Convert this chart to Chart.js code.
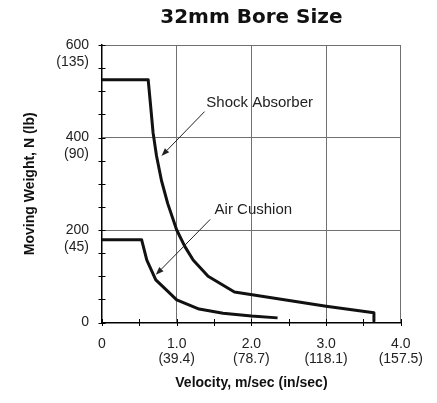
<!DOCTYPE html>
<html>
<head>
<meta charset="utf-8">
<script src="https://cdn.jsdelivr.net/npm/chart.js@4/dist/chart.umd.min.js"></script>
<style>
  html, body { margin: 0; padding: 0; background: #fff; }
  #wrap { width: 437px; height: 403px; position: relative; }
</style>
</head>
<body>
<div id="wrap"><canvas id="c" width="437" height="403"></canvas></div>
<script>
// ---- data ----
const shockX = [0, 0.618, 0.65, 0.684, 0.73, 0.796, 0.88, 1.0, 1.11, 1.22, 1.42, 1.773, 3.0, 3.64, 3.64];
const shockY = [525, 525, 470, 410, 360, 307, 257, 200, 164, 135, 100, 66, 35, 21, 3];
const airX = [0, 0.53, 0.60, 0.72, 0.85, 1.0, 1.3, 1.62, 2.0, 2.35];
const airY = [179, 179, 135, 92, 72, 49, 29, 20, 14, 10];

const xTickValues = [0, 1, 2, 3, 4];
const xTickMetric = ['0', '1.0', '2.0', '3.0', '4.0'];
const xTickImperial = ['', '(39.4)', '(78.7)', '(118.1)', '(157.5)'];
const yTickValues = [0, 200, 400, 600];
const yTickMetric = ['0', '200', '400', '600'];
const yTickImperial = ['', '(45)', '(90)', '(135)'];

const labelNames = ['Shock Absorber', 'Air Cushion'];
const labelAnchorX = [1.396, 1.507];
const labelAnchorY = [474, 243];
const arrowFromX = [1.373, 1.449];
const arrowFromY = [456, 223];
const arrowToX = [0.796, 0.72];
const arrowToY = [360, 103];

const toPts = (xs, ys) => xs.map((x, i) => ({ x, y: ys[i] }));

Chart.defaults.font.family = '"Liberation Sans", Arial, sans-serif';
Chart.defaults.color = '#222';

const crossTicks = {
  id: 'crossTicks',
  afterDraw(chart) {
    const { ctx, chartArea, scales } = chart;
    ctx.save();
    ctx.strokeStyle = '#000';
    ctx.lineWidth = 1;
    ctx.beginPath();
    scales.x.ticks.forEach(t => {
      const px = Math.round(scales.x.getPixelForValue(t.value)) + 0.5;
      ctx.moveTo(px, chartArea.bottom - 3.5);
      ctx.lineTo(px, chartArea.bottom + 3.5);
    });
    scales.y.ticks.forEach(t => {
      const py = Math.round(scales.y.getPixelForValue(t.value)) + 0.5;
      ctx.moveTo(chartArea.left - 3.5, py);
      ctx.lineTo(chartArea.left + 3.5, py);
    });
    ctx.stroke();
    ctx.restore();
  }
};

const callouts = {
  id: 'callouts',
  afterDatasetsDraw(chart) {
    const { ctx, scales } = chart;
    const sx = scales.x, sy = scales.y;
    ctx.save();
    ctx.fillStyle = '#222';
    ctx.strokeStyle = '#222';
    ctx.font = '15px "Liberation Sans", Arial, sans-serif';
    ctx.textAlign = 'left';
    ctx.textBaseline = 'middle';
    labelNames.forEach((name, i) => {
      ctx.fillText(name, sx.getPixelForValue(labelAnchorX[i]), sy.getPixelForValue(labelAnchorY[i]));
      const x1 = sx.getPixelForValue(arrowFromX[i]), y1 = sy.getPixelForValue(arrowFromY[i]);
      const x2 = sx.getPixelForValue(arrowToX[i]), y2 = sy.getPixelForValue(arrowToY[i]);
      const ang = Math.atan2(y2 - y1, x2 - x1);
      const hl = 8, hw = 3;
      const bx = x2 - hl * Math.cos(ang), by = y2 - hl * Math.sin(ang);
      ctx.lineWidth = 1;
      ctx.beginPath();
      ctx.moveTo(x1, y1);
      ctx.lineTo(bx, by);
      ctx.stroke();
      ctx.beginPath();
      ctx.moveTo(x2, y2);
      ctx.lineTo(bx + hw * Math.sin(ang), by - hw * Math.cos(ang));
      ctx.lineTo(bx - hw * Math.sin(ang), by + hw * Math.cos(ang));
      ctx.closePath();
      ctx.fill();
    });
    ctx.restore();
  }
};

const lineStyle = {
  borderColor: '#111',
  borderWidth: 3,
  pointRadius: 0,
  tension: 0,
  fill: false,
  borderJoinStyle: 'round',
  borderCapStyle: 'butt',
  clip: false
};

new Chart(document.getElementById('c'), {
  type: 'line',
  data: {
    datasets: [
      Object.assign({ label: 'Shock Absorber', data: toPts(shockX, shockY) }, lineStyle),
      Object.assign({ label: 'Air Cushion', data: toPts(airX, airY) }, lineStyle)
    ]
  },
  options: {
    responsive: false,
    animation: false,
    events: [],
    layout: { padding: { left: 0, right: 35, top: 0, bottom: 0 } },
    plugins: {
      legend: { display: false },
      tooltip: { enabled: false },
      title: {
        display: true,
        text: '32mm Bore Size',
        fullSize: false,
        color: '#111',
        font: { family: '"DejaVu Sans", sans-serif', weight: 'bold', size: 20, lineHeight: 1.2 },
        padding: { top: 6, bottom: 15 }
      }
    },
    scales: {
      x: {
        type: 'linear',
        min: 0,
        max: 4,
        afterFit(scale) { scale.height = 80.5; },
        ticks: {
          stepSize: 0.5,
          autoSkip: false,
          maxRotation: 0,
          padding: 14,
          font: { size: 14, lineHeight: 15 / 14 },
          callback(v) {
            const i = xTickValues.indexOf(v);
            if (i < 0) return '';
            return xTickImperial[i] ? [xTickMetric[i], xTickImperial[i]] : xTickMetric[i];
          }
        },
        grid: {
          drawTicks: false,
          lineWidth: 1,
          color(ctx) {
            const v = ctx.tick ? ctx.tick.value : null;
            return (v !== null && v !== 0 && xTickValues.includes(v)) ? '#707070' : 'rgba(0,0,0,0)';
          }
        },
        border: { display: true, color: '#000', width: 1.5 },
        title: {
          display: true,
          text: 'Velocity, m/sec (in/sec)',
          color: '#111',
          font: { size: 14, weight: 'bold', lineHeight: 1.2 },
          padding: { top: 0, bottom: 11 }
        }
      },
      y: {
        type: 'linear',
        min: 0,
        max: 600,
        afterFit(scale) { scale.width = 102; },
        ticks: {
          stepSize: 50,
          autoSkip: false,
          padding: 13,
          font: { size: 14, lineHeight: 17 / 14 },
          callback(v) {
            const i = yTickValues.indexOf(v);
            if (i < 0) return '';
            return yTickImperial[i] ? ['', yTickMetric[i], yTickImperial[i]] : yTickMetric[i];
          }
        },
        grid: {
          drawTicks: false,
          lineWidth: 1,
          color(ctx) {
            const v = ctx.tick ? ctx.tick.value : null;
            return (v !== null && v !== 0 && yTickValues.includes(v)) ? '#707070' : 'rgba(0,0,0,0)';
          }
        },
        border: { display: true, color: '#000', width: 1.5 },
        title: {
          display: true,
          text: 'Moving Weight, N (lb)',
          color: '#111',
          font: { size: 14, weight: 'bold', lineHeight: 1.2 },
          padding: { top: 22, bottom: 0 }
        }
      }
    }
  },
  plugins: [crossTicks, callouts]
});
</script>
</body>
</html>
